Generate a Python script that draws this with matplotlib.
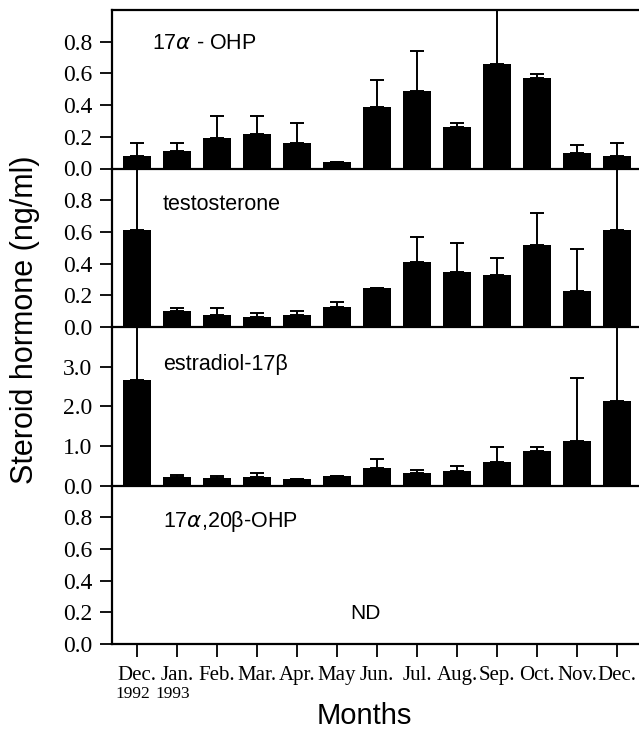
#!/usr/bin/env python3

import numpy as np
import matplotlib
matplotlib.use("Agg")
import matplotlib.pyplot as plt
from matplotlib.transforms import blended_transform_factory

meses = ["Dec.", "Jan.", "Feb.", "Mar.", "Apr.", "May", "Jun.",
         "Jul.", "Aug.", "Sep.", "Oct.", "Nov.", "Dec."]
anios = ["1992", "1993"]

# 17a-OHP (ng/ml) y error superior
ohp_media = [0.08, 0.11, 0.19, 0.22, 0.16, 0.04, 0.39, 0.49, 0.26, 0.66, 0.57, 0.10, 0.08]
ohp_error = [0.08, 0.05, 0.14, 0.11, 0.13, 0.00, 0.17, 0.25, 0.03, 0.45, 0.025, 0.05, 0.08]

# testosterona
testo_media = [0.61, 0.10, 0.077, 0.065, 0.073, 0.125, 0.243, 0.41, 0.35, 0.326, 0.52, 0.228, 0.61]
testo_error = [0.45, 0.02, 0.046, 0.023, 0.025, 0.035, 0.0, 0.157, 0.183, 0.111, 0.20, 0.262, 0.45]

# estradiol-17b
estra_media = [2.65, 0.21, 0.19, 0.21, 0.17, 0.23, 0.45, 0.31, 0.36, 0.60, 0.86, 1.12, 2.14]
estra_error = [1.6, 0.06, 0.06, 0.10, 0.0, 0.0, 0.22, 0.09, 0.14, 0.36, 0.12, 1.60, 2.0]

ALTO_PX = 738
ANCHO_PX = 639
fig = plt.figure(figsize=(ANCHO_PX / 100, ALTO_PX / 100), dpi=100)

izq = 112 / ANCHO_PX
arriba_px = 10
abajo_px = 644
alto_panel = (abajo_px - arriba_px) / 4 / ALTO_PX
x = np.arange(len(meses))

paneles = [
    (ohp_media, ohp_error, (0, 1.0), [0.0, 0.2, 0.4, 0.6, 0.8], ["0.0", "0.2", "0.4", "0.6", "0.8"], r"17$\alpha$ - OHP", 0.79, 0.38),
    (testo_media, testo_error, (0, 1.0), [0.0, 0.2, 0.4, 0.6, 0.8], ["0.0", "0.2", "0.4", "0.6", "0.8"], "testosterone", 0.77, 0.65),
    (estra_media, estra_error, (0, 4.0), [0.0, 1.0, 2.0, 3.0], ["0.0", "1.0", "2.0", "3.0"], "estradiol-17β", 3.05, 0.65),
    (None, None, (0, 1.0), [0.0, 0.2, 0.4, 0.6, 0.8], ["0.0", "0.2", "0.4", "0.6", "0.8"], r"17$\alpha$,20β-OHP", 0.77, 0.65),
]

ejes = []
for i, (media, error, ylim, yt, ytl, nombre, ytxt, xtxt) in enumerate(paneles):
    fondo = 1 - (arriba_px / ALTO_PX) - (i + 1) * alto_panel
    ax = fig.add_axes([izq, fondo, 1 - izq, alto_panel])
    ax.set_facecolor("none")
    if media is not None:
        ax.bar(x, media, width=0.7, color="black", zorder=2)
        yerr = [np.zeros(len(media)), error]
        ax.errorbar(x, media, yerr=yerr, fmt="none", ecolor="black",
                    elinewidth=1.4, capsize=5, capthick=1.4, zorder=1)
    ax.set_xlim(-0.625, 12.55)
    ax.set_ylim(*ylim)
    ax.set_yticks(yt)
    ax.set_yticklabels(ytl, family="Liberation Serif", fontsize=17)
    ax.set_xticks(x)
    ax.tick_params(axis="y", direction="out", length=9, width=1.3, pad=5)
    ax.spines["right"].set_visible(False)
    if i != 0:
        ax.spines["top"].set_visible(False)
    for s in ax.spines.values():
        s.set_linewidth(1.6)
    ax.text(xtxt, ytxt, nombre, family="Liberation Sans", fontsize=15.5,
            va="center", ha="left")
    if i < 3:
        ax.tick_params(axis="x", length=0)
        ax.set_xticklabels([])
    else:
        ax.set_xticklabels(meses, family="Liberation Serif", fontsize=15)
        ax.tick_params(axis="x", direction="out", length=9, width=1.3, pad=7)
        ax.text(5.7, 0.19, "ND", family="Liberation Sans", fontsize=15,
                va="center", ha="center")
        trans = blended_transform_factory(ax.transData, fig.transFigure)
        for k, anio in enumerate(anios):
            ax.text(x[k] - 0.1, 1 - 694 / ALTO_PX, anio, transform=trans,
                    family="Liberation Serif", fontsize=12.5,
                    ha="center", va="center")
    ejes.append(ax)

fig.text(25 / ANCHO_PX, 1 - 320 / ALTO_PX, "Steroid hormone (ng/ml)",
         rotation=90, family="Liberation Sans", fontsize=22,
         ha="center", va="center")
fig.text(364 / ANCHO_PX, 1 - 716 / ALTO_PX, "Months",
         family="Liberation Sans", fontsize=21, ha="center", va="center")

fig.savefig("out.png", dpi=100)
